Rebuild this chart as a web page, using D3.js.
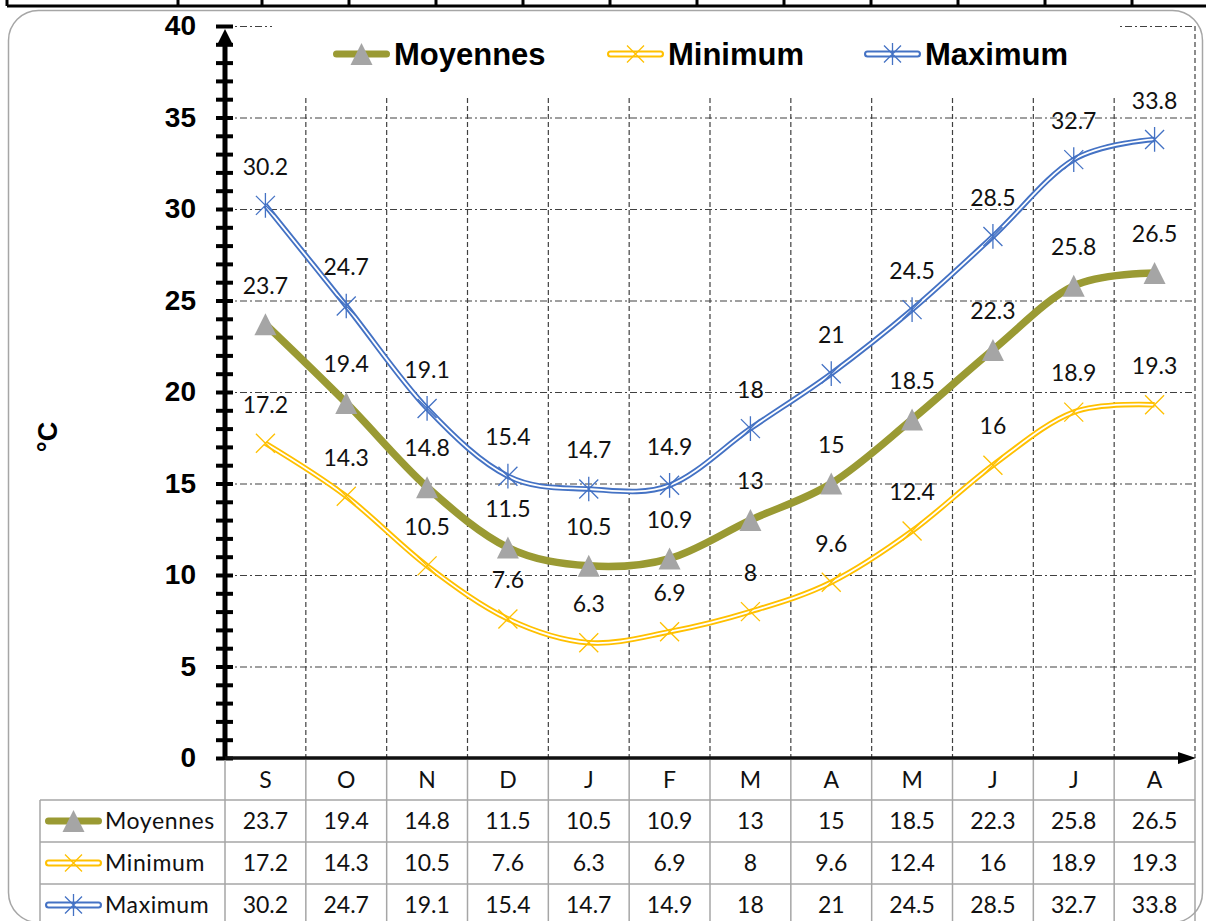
<!DOCTYPE html>
<html>
<head>
<meta charset="utf-8">
<script src="https://cdn.jsdelivr.net/npm/d3@7"></script>
<style>
  html, body { margin: 0; padding: 0; background: #fff; }
  svg { display: block; }
</style>
</head>
<body>
<svg id="chart" width="1206" height="921"></svg>
<script>
// Températures mensuelles (°C), de septembre à août
const months   = ["S", "O", "N", "D", "J", "F", "M", "A", "M", "J", "J", "A"];
const moyennes = [23.7, 19.4, 14.8, 11.5, 10.5, 10.9, 13, 15, 18.5, 22.3, 25.8, 26.5];
const minimum  = [17.2, 14.3, 10.5, 7.6, 6.3, 6.9, 8, 9.6, 12.4, 16, 18.9, 19.3];
const maximum  = [30.2, 24.7, 19.1, 15.4, 14.7, 14.9, 18, 21, 24.5, 28.5, 32.7, 33.8];
const majorTicks = [0, 5, 10, 15, 20, 25, 30, 35, 40];
const yUnit = "°C";

const series = [
  { name: "Moyennes", values: moyennes, color: "#9a9a33", kind: "solid",  marker: "triangle" },
  { name: "Minimum",  values: minimum,  color: "#ffc000", kind: "double", marker: "cross" },
  { name: "Maximum",  values: maximum,  color: "#4472c4", kind: "double", marker: "star" }
];

const svg = d3.select("#chart");
const W = 1206, H = 921;
const plotLeft = 225, plotRight = 1195, plotTop = 26, plotBottom = 758;

const x = d3.scaleBand().domain(d3.range(months.length)).range([plotLeft, plotRight]).padding(0);
const cx = i => x(i) + x.bandwidth() / 2;
const y = d3.scaleLinear().domain([0, 40]).range([plotBottom, plotTop]);

const labelFont = "Lato, 'Open Sans', sans-serif";
const labelSize = 23;
const textColor = "#111";
const boldFont = "'Liberation Sans', Arial, sans-serif";

// Spreadsheet cell borders above the chart object
const cellEdges = [7, 178].concat(d3.range(262, W, 87));
svg.append("line").attr("x1", 7).attr("x2", W).attr("y1", 6).attr("y2", 6)
  .attr("stroke", "#000").attr("stroke-width", 3);
svg.selectAll("line.cell").data(cellEdges).join("line").attr("class", "cell")
  .attr("x1", d => d).attr("x2", d => d).attr("y1", 0).attr("y2", 6)
  .attr("stroke", "#000").attr("stroke-width", 3);

// Chart frame
svg.append("rect").attr("x", 8.5).attr("y", 10.5).attr("width", 1194).attr("height", 912)
  .attr("rx", 30).attr("fill", "#fff").attr("stroke", "#a6a6a6").attr("stroke-width", 1.5);

// Horizontal gridlines (dash-dot)
const hGrid = svg.append("g").attr("transform", `translate(${plotLeft},0)`)
  .call(d3.axisLeft(y).tickValues(majorTicks.filter(v => v > 0)).tickSize(-(plotRight - plotLeft)).tickFormat(""));
hGrid.select(".domain").remove();
hGrid.selectAll(".tick line").attr("stroke", "#404040").attr("stroke-width", 1.2)
  .attr("stroke-dasharray", "7,3,2,3");

// Vertical gridlines (dashed) at category boundaries
const bounds = d3.range(1, months.length + 1).map(i => x(i - 1) + x.bandwidth());
svg.append("g").selectAll("line").data(bounds).join("line")
  .attr("x1", d => d).attr("x2", d => d).attr("y1", plotTop).attr("y2", plotBottom)
  .attr("stroke", "#404040").attr("stroke-width", 1.2).attr("stroke-dasharray", "5,3");

// Legend background hides the grid behind it
svg.append("rect").attr("x", 272).attr("y", 14).attr("width", 848).attr("height", 84).attr("fill", "#fff");

// Markers
function drawMarker(g, type, color, px, py, s) {
  if (type === "triangle") {
    g.append("path")
      .attr("d", `M${px},${py - 11}L${px + 11},${py + 11}L${px - 11},${py + 11}Z`)
      .attr("fill", "#a5a5a5");
  } else {
    const r = s;
    g.append("path")
      .attr("d", `M${px - r},${py - r}L${px + r},${py + r}M${px - r},${py + r}L${px + r},${py - r}` +
        (type === "star" ? `M${px},${py - r * 1.3}L${px},${py + r * 1.3}` : ""))
      .attr("stroke", color).attr("stroke-width", 1.3).attr("fill", "none");
  }
}

// Series lines
const line = d3.line().x((d, i) => cx(i)).y(d => y(d)).curve(d3.curveCardinal.tension(0));
const plot = svg.append("g");
series.forEach(s => {
  const g = plot.append("g");
  if (s.kind === "solid") {
    g.append("path").attr("d", line(s.values)).attr("fill", "none")
      .attr("stroke", s.color).attr("stroke-width", 7.5).attr("stroke-linejoin", "round");
  } else {
    g.append("path").attr("d", line(s.values)).attr("fill", "none")
      .attr("stroke", s.color).attr("stroke-width", 5.5).attr("stroke-linejoin", "round");
    g.append("path").attr("d", line(s.values)).attr("fill", "none")
      .attr("stroke", "#fff").attr("stroke-width", 1.8).attr("stroke-linejoin", "round");
  }
  s.values.forEach((v, i) => drawMarker(g, s.marker, s.color, cx(i), y(v), 9.5));
});

// Data labels above each point
series.forEach(s => {
  svg.append("g").selectAll("text").data(s.values).join("text")
    .attr("x", (d, i) => cx(i)).attr("y", d => y(d) - 39)
    .attr("dy", "0.36em").attr("text-anchor", "middle")
    .attr("font-family", labelFont).attr("font-size", labelSize).attr("fill", textColor)
    .text(d => d);
});

// Y axis with a tick at every degree
const yAxis = svg.append("g").attr("transform", `translate(${plotLeft},0)`)
  .call(d3.axisLeft(y).tickValues(d3.range(0, 41)).tickSize(0).tickPadding(29)
    .tickFormat(d => majorTicks.includes(d) ? d : ""));
yAxis.select(".domain").remove();
yAxis.selectAll(".tick").append("line").attr("x1", -9).attr("x2", 8)
  .attr("stroke", "#000").attr("stroke-width", 4);
yAxis.selectAll(".tick text").attr("font-family", boldFont).attr("font-weight", "bold")
  .attr("font-size", 28).attr("fill", "#000");
svg.append("line").attr("x1", plotLeft).attr("x2", plotLeft).attr("y1", plotBottom).attr("y2", 40)
  .attr("stroke", "#000").attr("stroke-width", 5);
svg.append("path").attr("d", `M${plotLeft},${plotTop + 3}L${plotLeft + 8},${plotTop + 19}L${plotLeft - 8},${plotTop + 19}Z`).attr("fill", "#000");

// X axis line with arrow
svg.append("line").attr("x1", plotLeft).attr("x2", plotRight - 10).attr("y1", plotBottom).attr("y2", plotBottom)
  .attr("stroke", "#111").attr("stroke-width", 3.5);
svg.append("path").attr("d", `M${plotRight + 1},${plotBottom}L${plotRight - 17},${plotBottom - 6}L${plotRight - 17},${plotBottom + 6}Z`).attr("fill", "#000");

// Y title
svg.append("text").attr("transform", "translate(47,437) rotate(-90)")
  .attr("text-anchor", "middle").attr("dy", "0.36em")
  .attr("font-family", boldFont).attr("font-weight", "bold").attr("font-size", 27)
  .text(yUnit);

function drawLegendKey(g, s, x0, x1, yy, w) {
  g.append("line").attr("x1", x0 + w / 2).attr("x2", x1 - w / 2).attr("y1", yy).attr("y2", yy)
    .attr("stroke", s.color).attr("stroke-width", w).attr("stroke-linecap", "round");
  if (s.kind === "double") {
    g.append("line").attr("x1", x0 + w / 2).attr("x2", x1 - w / 2).attr("y1", yy).attr("y2", yy)
      .attr("stroke", "#fff").attr("stroke-width", w * 0.4).attr("stroke-linecap", "round");
  }
  drawMarker(g, s.marker, s.color, (x0 + x1) / 2, yy, 8.5);
}

// Legend
const legendPos = [333, 607, 864];
series.forEach((s, k) => {
  const g = svg.append("g");
  drawLegendKey(g, s, legendPos[k], legendPos[k] + 57, 54, 7);
  g.append("text").attr("x", legendPos[k] + 61).attr("y", 54).attr("dy", "0.36em")
    .attr("font-family", boldFont).attr("font-weight", "bold").attr("font-size", 31)
    .text(s.name);
});

// Data table under the axis
const rowTop = 800, rowH = 42, tableLeft = 40;
const tbl = svg.append("g");
const gridStroke = "#a6a6a6";
// category header
tbl.selectAll("text.cat").data(months).join("text").attr("class", "cat")
  .attr("x", (d, i) => cx(i)).attr("y", (plotBottom + rowTop) / 2 + 1).attr("dy", "0.36em")
  .attr("text-anchor", "middle").attr("font-family", labelFont).attr("font-size", labelSize).attr("fill", textColor)
  .text(d => d);
// vertical separators
tbl.selectAll("line.v").data([plotLeft].concat(bounds)).join("line").attr("class", "v")
  .attr("x1", d => d).attr("x2", d => d).attr("y1", plotBottom + 2).attr("y2", H)
  .attr("stroke", gridStroke).attr("stroke-width", 1.5);
tbl.append("line").attr("x1", tableLeft).attr("x2", tableLeft).attr("y1", rowTop).attr("y2", H)
  .attr("stroke", gridStroke).attr("stroke-width", 1.5);
// horizontal separators
tbl.selectAll("line.h").data(series).join("line").attr("class", "h")
  .attr("x1", tableLeft).attr("x2", plotRight).attr("y1", (d, k) => rowTop + k * rowH).attr("y2", (d, k) => rowTop + k * rowH)
  .attr("stroke", gridStroke).attr("stroke-width", 1.5);
series.forEach((s, k) => {
  const cy = rowTop + k * rowH + rowH / 2;
  const g = tbl.append("g");
  drawLegendKey(g, s, 45, 102, cy, 7);
  g.append("text").attr("x", 105).attr("y", cy).attr("dy", "0.36em")
    .attr("font-family", labelFont).attr("font-size", labelSize).attr("letter-spacing", 0.6)
    .attr("fill", textColor).text(s.name);
  g.selectAll("text.val").data(s.values).join("text").attr("class", "val")
    .attr("x", (d, i) => cx(i)).attr("y", cy).attr("dy", "0.36em").attr("text-anchor", "middle")
    .attr("font-family", labelFont).attr("font-size", labelSize).attr("fill", textColor).text(d => d);
});
</script>
</body>
</html>
